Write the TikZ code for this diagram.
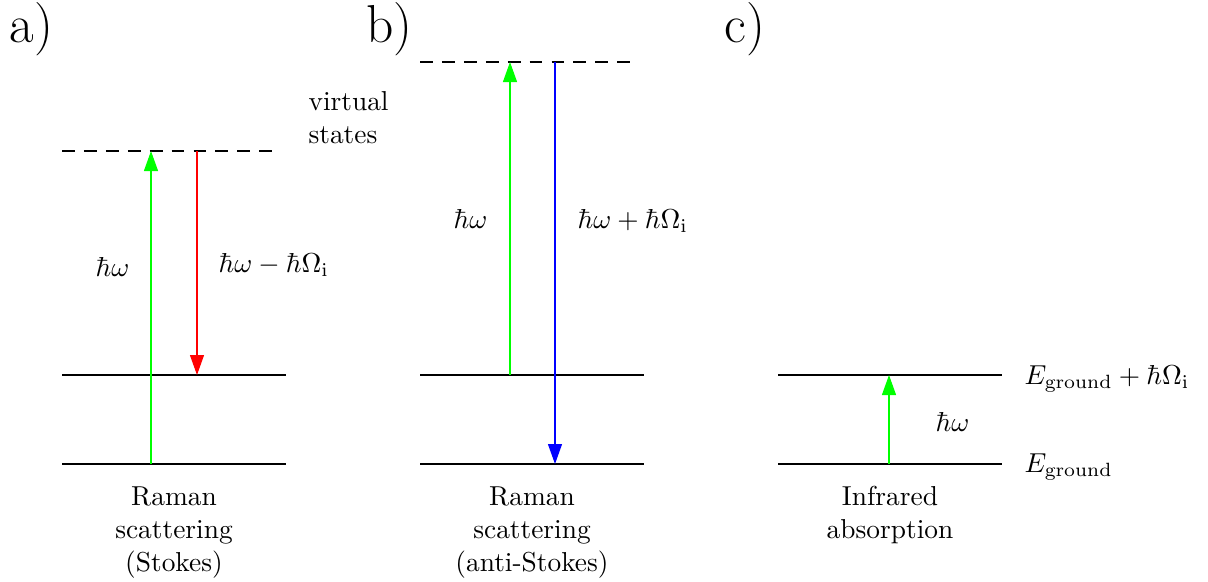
\documentclass[tikz,border=0pt]{standalone}
\usepackage{tikz}
\usetikzlibrary{arrows.meta,positioning}
\usepackage{xcolor}
\definecolor{pgreen}{RGB}{0,255,0}
\definecolor{pred}{RGB}{255,0,0}
\definecolor{pblue}{RGB}{0,0,255}
\tikzset{
  level/.style   = {line width=0.45pt},
  virt/.style    = {line width=0.45pt, dash pattern=on 4.7pt off 3.3pt},
  photon/.style  = {line width=0.45pt, -{Triangle[length=7.3pt,width=5.1pt]}},
  lbl/.style     = {anchor=base west, inner sep=0pt},
  caption/.style = {anchor=north, inner sep=0pt, align=center},
  panel/.style   = {anchor=base west, inner sep=0pt,
                    font=\fontsize{19.5pt}{23pt}\selectfont},
}
\newcommand{\hw}{\hbar\omega}
\newcommand{\hOm}{\hbar\Omega_{\mathrm{i}}}

\begin{document}
\begin{tikzpicture}[x=0.365pt, y=-0.365pt]
\useasboundingbox (0,0) rectangle (1208,581);
% ---- energy levels ----
\foreach \p/\x in {a/62,b/420,c/778}{
  \coordinate (\p-gw) at (\x,464);
  \coordinate (\p-ge) at (\x+224,464);
  \coordinate (\p-ew) at (\x,375);
  \coordinate (\p-ee) at (\x+224,375);
  \draw[level] (\p-gw) -- (\p-ge);
  \draw[level] (\p-ew) -- (\p-ee);}
% ---- virtual states ----
\coordinate (a-vw) at (62,151);
\coordinate (a-ve) at (280,151);
\coordinate (b-vw) at (420,62);
\coordinate (b-ve) at (638,62);
\draw[virt] (a-vw) -- (a-ve);
\draw[virt] (b-vw) -- (b-ve);
% ---- transitions ----
\coordinate (a-in0) at (151,464);  \coordinate (a-in1) at (151,151);
\coordinate (a-out0) at (197,151); \coordinate (a-out1) at (197,375);
\coordinate (b-in0) at (510,375);  \coordinate (b-in1) at (510,62);
\coordinate (b-out0) at (555,62);  \coordinate (b-out1) at (555,464);
\coordinate (c-in0) at (889,464);  \coordinate (c-in1) at (889,375);
\draw[photon,pgreen] (a-in0) -- (a-in1);
\draw[photon,pred] (a-out0) -- (a-out1);
\draw[photon,pgreen] (b-in0) -- (b-in1);
\draw[photon,pblue] (b-out0) -- (b-out1);
\draw[photon,pgreen] (c-in0) -- (c-in1);
% ---- labels ----
\node[panel] (a-tag) at (9,42) {a)};
\node[panel] (b-tag) at (366,42) {b)};
\node[panel] (c-tag) at (724,42) {c)};
\node[lbl,align=left] (virtlbl) at (308,143) {virtual\\states};
\node[lbl] (a-hw) at (95,276) {$\hw$};
\node[lbl] (a-hws) at (218,272) {$\hw-\hOm$};
\node[lbl] (b-hw) at (453,228) {$\hw$};
\node[lbl] (b-hwa) at (577,228) {$\hw+\hOm$};
\node[lbl] (c-hw) at (935,431) {$\hw$};
\node[lbl] (c-up) at (1024,384) {$E_{\mathrm{ground}}+\hOm$};
\node[lbl] (c-gr) at (1024,472) {$E_{\mathrm{ground}}$};
% ---- captions ----
\node[caption] (a-cap) at (174,486) {Raman\\scattering\\(Stokes)};
\node[caption] (b-cap) at (532,486) {Raman\\scattering\\(anti-Stokes)};
\node[caption] (c-cap) at (890,486) {Infrared\\absorption};
\end{tikzpicture}
\end{document}
